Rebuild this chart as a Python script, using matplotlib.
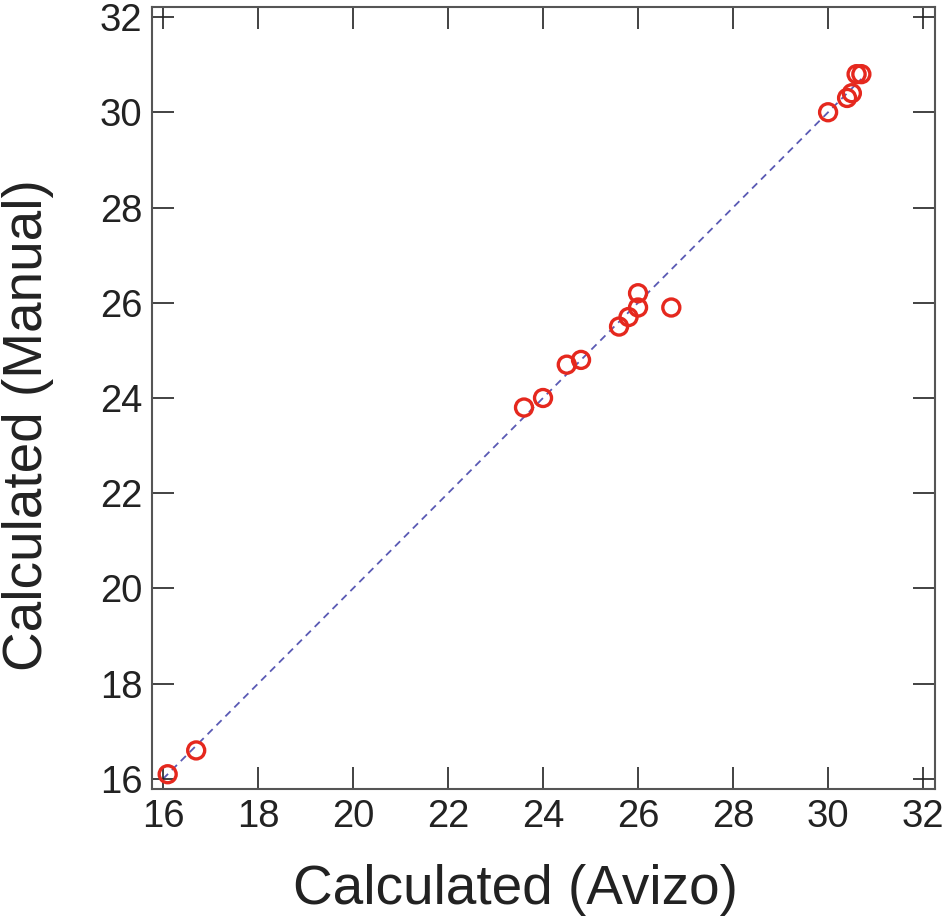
import matplotlib
matplotlib.use("Agg")
import matplotlib.pyplot as plt
import numpy as np

avizo = [16.1, 16.7, 23.6, 24.0, 24.5, 24.8, 25.6, 25.8, 26.0, 26.0, 26.7,
         30.0, 30.4, 30.5, 30.6, 30.7]
manual = [16.1, 16.6, 23.8, 24.0, 24.7, 24.8, 25.5, 25.7, 25.9, 26.2, 25.9,
          30.0, 30.3, 30.4, 30.8, 30.8]
ticks = [16, 18, 20, 22, 24, 26, 28, 30, 32]
line_range = [16.0, 30.7]

plt.rcParams['font.family'] = ['Liberation Sans', 'DejaVu Sans']

W, H = 946, 917
fig = plt.figure(figsize=(W/100, H/100), dpi=100)
ax = fig.add_axes([152/W, 1-789/H, (935-152)/W, (789-7)/H])

ax.plot(line_range, line_range, linestyle=(0, (4, 3)), color='#5a5ab4', lw=1.3, zorder=1)
ax.scatter(avizo, manual, s=150, facecolors='none', edgecolors='#e5281e',
           linewidths=2.4, zorder=2)

ax.set_xlim(15.77, 32.25)
ax.set_ylim(15.79, 32.21)
ax.set_xticks(ticks)
ax.set_yticks(ticks)
ax.tick_params(direction='in', length=16, width=1.2, colors='#222222',
               labelsize=27.5, top=True, right=True, pad=7)
for s in ax.spines.values():
    s.set_linewidth(1.5)
    s.set_color('#555555')

fig.text(515/W, 1-890/H, 'Calculated (Avizo)', fontsize=39.5, color='#222222',
         ha='center', va='center')
fig.text(28/W, 1-425/H, 'Calculated (Manual)', fontsize=39.5, color='#222222',
         ha='center', va='center', rotation=90)

fig.savefig('out.png', dpi=100)
